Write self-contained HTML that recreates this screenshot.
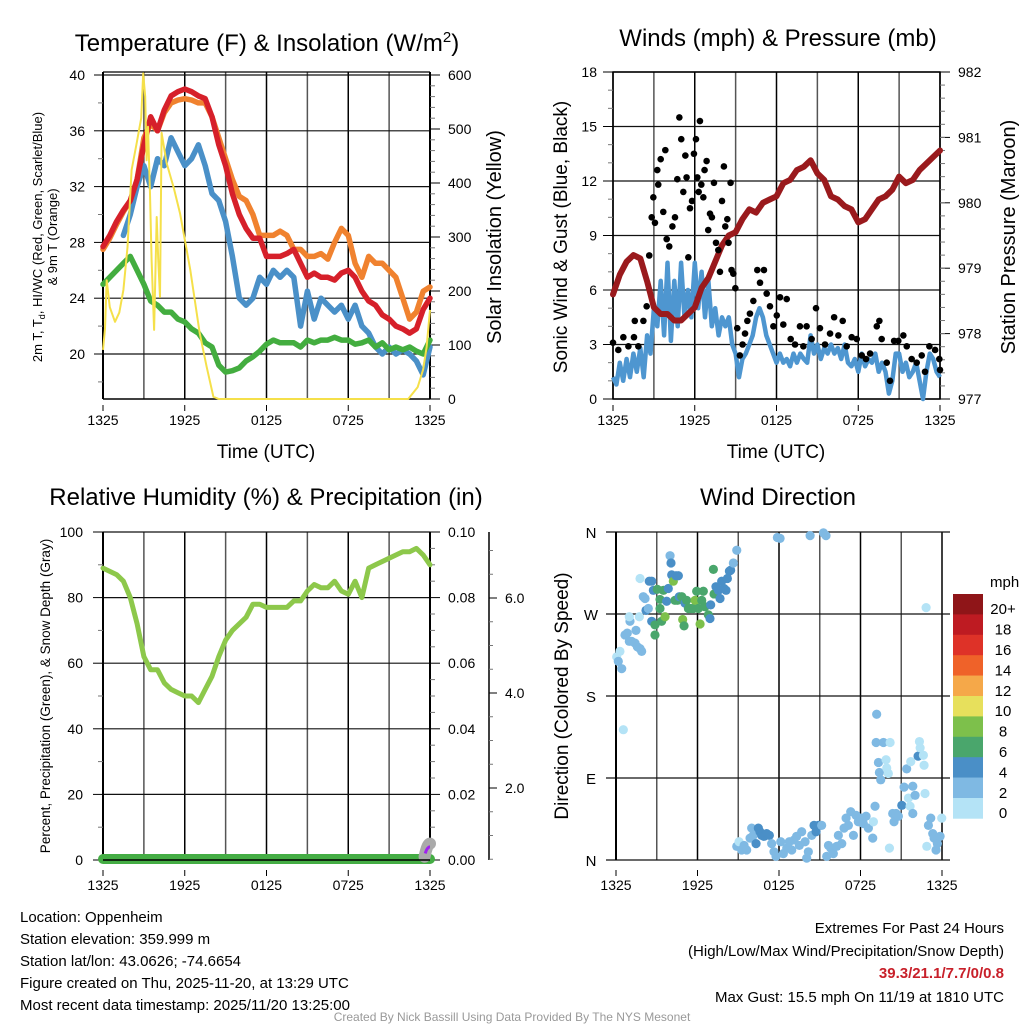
<!DOCTYPE html>
<html><head><meta charset="utf-8"><style>
html,body{margin:0;padding:0;background:#fff;}
svg{display:block;font-family:"Liberation Sans",sans-serif;}
</style></head><body>
<svg id="chart" width="1024" height="1024" viewBox="0 0 1024 1024" xmlns="http://www.w3.org/2000/svg">
<rect width="1024" height="1024" fill="#fff"/>
<g id="layer"></g>
<text x="267" y="51" font-size="24" text-anchor="middle">Temperature (F) &amp; Insolation (W/m<tspan dy="-9" font-size="15">2</tspan><tspan dy="9">)</tspan></text>
<text x="778" y="46" font-size="24" text-anchor="middle">Winds (mph) &amp; Pressure (mb)</text>
<text x="266" y="505" font-size="24" text-anchor="middle">Relative Humidity (%) &amp; Precipitation (in)</text>
<text x="778" y="505" font-size="24" text-anchor="middle">Wind Direction</text>
<text x="266" y="458" font-size="19" text-anchor="middle">Time (UTC)</text>
<text x="776" y="458" font-size="19" text-anchor="middle">Time (UTC)</text>
<text transform="translate(42,237) rotate(-90)" font-size="13" text-anchor="middle">2m T, T<tspan font-size="9" dy="3">d</tspan><tspan dy="-3">, HI/WC (Red, Green, Scarlet/Blue)</tspan></text>
<text transform="translate(57,237) rotate(-90)" font-size="13" text-anchor="middle">&amp; 9m T (Orange)</text>
<text transform="translate(501,237) rotate(-90)" font-size="20" text-anchor="middle">Solar Insolation (Yellow)</text>
<text transform="translate(567,237) rotate(-90)" font-size="19" text-anchor="middle">Sonic Wind &amp; Gust (Blue, Black)</text>
<text transform="translate(1015,237) rotate(-90)" font-size="20" text-anchor="middle">Station Pressure (Maroon)</text>
<text transform="translate(50,696) rotate(-90)" font-size="13.5" text-anchor="middle">Percent, Precipitation (Green), &amp; Snow Depth (Gray)</text>
<text transform="translate(568,696) rotate(-90)" font-size="19" text-anchor="middle">Direction (Colored By Speed)</text>
<g font-size="15">
<text x="20" y="922">Location: Oppenheim</text>
<text x="20" y="944">Station elevation: 359.999 m</text>
<text x="20" y="966">Station lat/lon: 43.0626; -74.6654</text>
<text x="20" y="988">Figure created on Thu, 2025-11-20, at 13:29 UTC</text>
<text x="20" y="1010">Most recent data timestamp: 2025/11/20 13:25:00</text>
</g>
<g font-size="15" text-anchor="end">
<text x="1004" y="933">Extremes For Past 24 Hours</text>
<text x="1004" y="956">(High/Low/Max Wind/Precipitation/Snow Depth)</text>
<text x="1004" y="978" fill="#c8202a" font-weight="bold">39.3/21.1/7.7/0/0.8</text>
<text x="1004" y="1002">Max Gust: 15.5 mph On 11/19 at 1810 UTC</text>
</g>
<text x="512" y="1021" font-size="12" fill="#999" text-anchor="middle">Created By Nick Bassill Using Data Provided By The NYS Mesonet</text>
</svg>
<script>
// ---- data ----
const hours = [0,0.5,1,1.5,2,2.5,3,3.5,4,4.5,5,5.5,6,6.5,7,7.5,8,8.5,9,9.5,10,10.5,11,11.5,12,12.5,13,13.5,14,14.5,15,15.5,16,16.5,17,17.5,18,18.5,19,19.5,20,20.5,21,21.5,22,22.5,23,23.5,24];
const timeTickLabels = ["1325","1925","0125","0725","1325"];
const tempRed = [27.7,28.5,29.5,30.3,31,32.5,35,37,36,37.5,38.5,38.8,39,38.8,38.5,38.3,37,35,33.5,31.5,30,29,28.3,28.3,27,27,27,27.2,27.5,26.5,25.5,25.8,25.5,25.5,25.3,25.8,26,25.5,24.5,23.8,23.5,22.8,22.5,22,21.8,21.5,21.8,23.2,24];
const temp9m = [27.5,28.3,29.3,30.2,31,32.5,35.5,36.5,36,37.3,38,38.2,38.3,38.2,38,38,37,35.5,34,32.5,31.3,31,30,28.5,28.5,28.5,28.8,28.5,27.5,27.5,27,27,27.2,26.8,28,29,28.5,26.5,25.5,27,26.5,26.5,26,25.5,24,22.5,23,24.5,24.8];
const tempBlue = [null,null,null,28.5,30,32,33.5,32,34,33.5,35.5,34.5,33.5,34,35,33.5,31.5,31,29.5,27,24,23.5,24,25.5,25,26,25.5,26,25.5,22,24.5,22.5,24,23.5,23,23.5,22.5,23.5,22,21.5,20.5,20,20.5,20,20.3,20,19.5,18.5,20.5];
const dewPoint = [25,25.5,26,26.5,27,26,25,23.8,23.5,23,23,22.5,22.3,21.8,21.5,20.8,20.5,19.2,18.7,18.8,19,19.5,19.8,20.2,20.7,21,20.8,20.8,20.8,20.5,21,20.8,21,21,21.2,21,21,20.7,20.8,21,20.5,20.8,20.3,20.5,20.3,20.5,20.2,20,21];
const tempTicks = [20,24,28,32,36,40];
const insolTicks = [0,100,200,300,400,500,600];
const insolHours = [0,0.15,0.27,0.5,0.88,1.2,1.5,1.8,2.1,2.47,2.8,2.95,3.1,3.2,3.3,3.45,3.57,3.75,3.94,4.05,4.18,4.3,4.67,5.2,5.65,6.4,7.1,7.6,8.1,8.5,22.4,23.1,23.5,23.75,24];
const insolValues = [91,130,220,170,143,160,202,281,424,474,520,603,560,442,504,380,257,128,337,260,189,493,437,390,344,240,122,60,4,0,0,22,55,96,165];

const windSpeed = [1.2,0.8,2,1,2.2,1.2,2.5,1.5,2.8,1.2,3.5,2.5,5,4,6.5,3.5,7.5,3.2,6.5,4,7.5,4.5,6,4.5,7.5,5,7,4.5,6.5,4,5,3.5,4.5,4,4.5,3,2.5,1.2,2.2,2.5,3,3.5,4.5,5,4.5,3.5,3,2.5,2,2.5,2,2.2,1.8,2.5,2,2.5,2.2,2,3.5,2.5,3,2.2,2.8,2.5,3,2.5,2.8,2.2,3,2,1.8,2.2,1.5,2.5,1.8,2.2,2,2.5,1.5,2,1.5,0.3,1,2.5,2.5,1.5,2,1.2,1.5,2,1,0,1.5,2.5,2.2,1.5,1.2];
const pressure = [978.6,978.9,979.1,979.2,979.15,978.8,978.4,978.3,978.3,978.2,978.2,978.3,978.4,978.7,978.85,979.1,979.35,979.5,979.55,979.75,979.9,979.85,980,980.05,980.1,980.3,980.35,980.5,980.55,980.65,980.45,980.35,980.1,980.05,979.95,979.9,979.7,979.75,979.9,980.05,980.1,980.2,980.4,980.3,980.35,980.5,980.6,980.7,980.8];
const gustHours = [0,0.39,0.76,1.13,1.54,1.86,1.6,2.23,2.47,2.66,2.84,2.96,3.08,3.25,3.32,3.5,3.69,3.84,3.94,4.13,4.36,4.55,4.72,4.87,5.01,5.16,5.31,5.4,5.53,5.65,5.8,5.94,6.09,6.19,6.29,6.38,6.48,6.63,6.72,6.87,6.99,7.12,7.26,7.41,7.56,7.73,7.85,8.0,8.14,8.24,8.39,8.48,8.63,8.7,8.83,8.98,9.12,9.31,9.51,9.69,9.86,10.05,10.3,10.59,10.79,11.08,11.28,11.52,11.77,12.02,12.26,12.5,12.75,13.04,13.36,13.72,13.97,14.21,14.58,14.9,15.19,15.56,15.93,16.23,16.54,16.86,17.15,17.52,17.89,18.26,18.57,18.87,19.36,19.55,19.72,20.09,20.33,20.63,20.94,21.31,21.56,21.92,22.29,22.66,22.9,23.22,23.64,23.95,24];
const gustValues = [3.1,2.7,3.4,2.9,3.4,2.9,4.3,4.3,5.1,7.9,10.0,11.1,9.7,12.6,11.8,13.2,10.3,13.7,8.8,8.4,9.5,10.0,12.1,15.5,14.3,11.4,13.4,12.2,7.8,10.5,10.9,13.5,14.3,12.2,11.4,15.3,11.8,11.1,12.6,13.1,9.3,10.2,10.0,11.9,8.6,8.2,7.0,10.9,12.8,9.5,9.9,8.6,11.9,7.1,6.9,6.1,3.9,2.4,3.0,3.6,4.3,4.7,5.4,7.1,6.4,7.1,5.8,5.1,4.0,4.6,5.6,4.1,5.5,3.3,3.0,4.0,2.9,4.0,3.3,5.0,3.9,3.0,3.6,4.5,3.5,4.3,2.9,3.4,3.3,2.4,2.2,2.5,4.0,4.3,3.3,2.0,1.0,3.2,3.2,3.5,2.9,2.2,2.0,2.4,1.5,2.9,2.7,2.2,1.6];
const windTicks = [0,3,6,9,12,15,18];
const pressureTicks = [977,978,979,980,981,982];

const rh = [89,88,87,85,80,72,62,58,58,54,52,51,50,50,48,52,56,62,67,70,72,74,78,78,77,77,77,77,79,79,82,84,83,83,85,82,81,85,80,89,90,91,92,93,94,94,95,93,90];
const rhTicks = [0,20,40,60,80,100];
const precipTickLabels = ["0.00","0.02","0.04","0.06","0.08","0.10"];
const snowTickLabels = ["2.0","4.0","6.0"];

const dirHours = [0.05,0.29,0.17,0.42,0.54,0.66,0.83,0.98,1.15,1.4,1.57,1.77,1.89,1.03,0.98,1.47,1.72,1.77,2.01,2.14,2.21,2.38,2.45,2.63,2.75,2.63,2.87,2.87,3.04,3.24,3.24,3.36,3.49,3.61,3.73,3.85,3.98,4.05,4.1,4.22,4.34,4.42,4.52,4.59,4.66,4.84,4.91,5.01,5.08,5.2,5.33,5.5,5.69,5.82,5.94,6.06,6.19,6.31,6.43,6.55,6.8,6.92,6.97,7.17,7.22,7.36,7.54,7.66,7.78,7.95,8.1,8.2,8.35,8.44,8.64,8.89,
8.89,9.06,9.25,9.43,9.62,9.87,9.99,10.11,10.31,10.48,10.6,10.73,10.9,11.09,11.29,11.46,11.63,11.78,11.88,12.08,12.13,12.32,12.57,12.76,12.94,13.11,13.3,13.5,13.67,13.92,14.04,14.16,14.29,14.41,14.58,14.73,14.9,15.14,15.27,15.46,15.51,15.64,15.81,16.0,16.25,16.37,16.62,16.79,16.94,17.11,17.28,17.48,17.67,17.84,18.02,18.21,18.41,18.58,18.9,18.95,19.07,19.19,19.15,19.32,19.39,19.49,19.69,19.88,19.93,20.05,20.18,20.13,20.37,20.47,20.62,20.79,21.04,21.21,21.4,21.53,21.65,21.7,21.85,21.85,22.02,22.24,22.34,22.39,22.63,22.68,22.75,22.83,22.88,23.0,23.17,23.32,23.42,23.56,23.66,23.86,23.98];
const dirDegrees = [223,229,218,210,143,247,249,240,240,238,234,232,229,262,267,252,267,309,289,287,274,276,306,306,296,262,258,247,297,286,276,262,296,267,284,298,334,326,313,306,285,312,285,312,289,289,264,257,282,285,276,276,276,285,295,276,259,285,295,278,269,265,280,319,292,300,296,287,306,298,296,309,317,318,326,340,
15,20,11,16,11,24,35,27,18,35,31,27,26,29,27,18,9,4,354,353,20,7,13,20,11,22,26,16,31,20,2,9,356,27,38,31,38,38,359,356,4,16,13,7,15,27,18,35,46,38,53,27,49,42,46,40,48,35,24,42,59,160,129,107,96,88,129,110,101,95,129,13,51,42,51,48,60,80,100,68,59,108,51,81,71,114,130,123,115,104,73,277,15,38,46,29,24,11,18,26,46];
const dirSpeeds = [1,1,3,3,1,3,3,3,3,3,3,3,3,3,1,3,1,1,3,3,5,3,5,5,5,5,7,7,7,7,7,7,7,9,5,5,3,5,5,9,7,5,7,5,5,7,9,7,5,7,7,7,7,9,7,7,9,7,7,7,7,5,5,7,7,5,5,5,5,5,5,5,5,5,3,3,
3,1,3,3,3,3,3,3,5,5,5,5,5,5,5,3,3,3,3,3,3,3,3,3,3,3,3,3,3,3,3,3,3,3,5,5,5,3,3,3,3,3,3,3,3,3,3,3,3,3,3,3,3,3,3,3,3,3,3,1,3,3,3,3,3,3,3,1,1,1,1,1,3,3,3,3,5,3,3,1,1,1,3,3,3,5,1,1,1,1,1,1,1,3,3,3,3,3,3,3,1];
const dirTickLabels = ["N","E","S","W","N"];
const dirTickDegrees = [0,90,180,270,360];
const speedBinLabels = ["20+","18","16","14","12","10","8","6","4","2","0"];
const speedBinColors = ["#8f1518","#be1b22","#de3228","#ef6229","#f5a849","#e7e05c","#7dc04b","#4aa66c","#4a8fc7","#7fb9e3","#b4e3f6"];

// ---- helpers ----
const NS = "http://www.w3.org/2000/svg";
const layer = document.getElementById('layer');
function mk(tag, attrs, parent){ const e=document.createElementNS(NS,tag); for(const k in attrs) e.setAttribute(k,attrs[k]); (parent||layer).appendChild(e); return e; }
function xAxis(x0,x1){ return h => x0 + h*(x1-x0)/24; }
function linY(vMin,vMax,yBottom,yTop){ return v => yBottom - (v-vMin)*(yBottom-yTop)/(vMax-vMin); }
function pathFrom(xs, ys, fx, fy){
  let d="", pen=false;
  for(let i=0;i<xs.length;i++){
    if(ys[i]===null||ys[i]===undefined){pen=false;continue;}
    d += (pen?"L":"M") + fx(xs[i]).toFixed(1)+","+fy(ys[i]).toFixed(1)+" ";
    pen=true;
  }
  return d;
}
function grid(g, x0,x1,yTop,yBottom, fx, hLines){
  for(let h=0;h<=24;h+=3){ const gl=mk('line',{x1:fx(h),x2:fx(h),y1:yTop,y2:yBottom,stroke:(h%6===0?'#000':'#555'),'stroke-width':1.5},g);
      }
  hLines.forEach(y=>{ const gl=mk('line',{x1:x0,x2:x1,y1:y,y2:y,stroke:'#111','stroke-width':1.2},g);
      });
}
function timeLabels(g, fx, y){
  timeTickLabels.forEach((t,i)=>{ const tx=mk('text',{x:fx(i*6),y:y,'font-size':14,'text-anchor':'middle'},g); tx.textContent=t;
     
    const tk=mk('line',{x1:fx(i*6),x2:fx(i*6),y1:y-20,y2:y-14,stroke:'#000'},g);
      });
}
function label(g,x,y,txt,anchor,size,name){ const t=mk('text',{x:x,y:y,'font-size':size||14,'text-anchor':anchor||'end'},g); t.textContent=txt;
    return t; }

// ---- panel 1: temperature ----
(function(){
  const g=mk('g',{});  
  const fx=xAxis(103,430), fi=linY(0,600,399,75);
  const fyT = v => 75 + (40-v)*13.95;
  grid(g,103,430,72,399,fx,tempTicks.map(fyT));
  mk('line',{x1:103,x2:430,y1:72,y2:72,stroke:'#000','stroke-width':1.2},g);
  mk('line',{x1:103,x2:430,y1:399,y2:399,stroke:'#000','stroke-width':1.5},g);
  mk('line',{x1:103,x2:103,y1:72,y2:399,stroke:'#000','stroke-width':2},g);
  mk('line',{x1:430,x2:430,y1:72,y2:399,stroke:'#000','stroke-width':2},g);
  tempTicks.forEach(t=>{ label(g,85,fyT(t)+5,String(t),'end',14,'temp-tick-label'); mk('line',{x1:94,x2:103,y1:fyT(t),y2:fyT(t),stroke:'#000'},g); });
  for(let t=18;t<40;t+=2){ if(t%4) mk('line',{x1:98,x2:103,y1:fyT(t),y2:fyT(t),stroke:'#777'},g); }
  insolTicks.forEach(v=>{ label(g,448,fi(v)+5,String(v),'start',14,'insolation-tick-label'); mk('line',{x1:430,x2:440,y1:fi(v),y2:fi(v),stroke:'#000'},g); });
  for(let v=20;v<600;v+=20){ if(v%100) mk('line',{x1:430,x2:435,y1:fi(v),y2:fi(v),stroke:'#777'},g); }
  timeLabels(g,fx,425);
  const series=[[temp9m,'#f0822f','nine-meter-temp-line'],[tempBlue,'#4a90c8','wind-chill-line'],[dewPoint,'#43ad3f','dew-point-line'],[tempRed,'#d6202a','temperature-line']];
  series.forEach(s=>{ const p=mk('path',{d:pathFrom(hours,s[0],fx,fyT),fill:'none',stroke:s[1],'stroke-width':5.5,'stroke-linejoin':'round','stroke-linecap':'round'},g);
      });
  const ins=mk('path',{d:pathFrom(insolHours,insolValues,fx,fi),fill:'none',stroke:'#f5e04a','stroke-width':2,'stroke-linejoin':'round'},g);
   
})();

// ---- panel 2: winds ----
(function(){
  const g=mk('g',{});  
  const fx=xAxis(613,940), fw=linY(0,18,399,72), fp=linY(977,982,399,72);
  const windHours = windSpeed.map((v,i)=>i*24/(windSpeed.length-1));
  grid(g,613,940,72,399,fx,windTicks.map(fw));
  mk('rect',{x:613,y:72,width:327,height:327,fill:'none',stroke:'#000','stroke-width':1.5},g);
  windTicks.forEach(t=>{ label(g,597,fw(t)+5,String(t),'end',14,'wind-tick-label'); mk('line',{x1:603,x2:613,y1:fw(t),y2:fw(t),stroke:'#000'},g); });
  for(let t=1;t<18;t++){ if(t%3) mk('line',{x1:608,x2:613,y1:fw(t),y2:fw(t),stroke:'#777'},g); }
  pressureTicks.forEach(v=>{ label(g,958,fp(v)+5,String(v),'start',14,'pressure-tick-label'); mk('line',{x1:940,x2:950,y1:fp(v),y2:fp(v),stroke:'#000'},g); });
  for(let v=977.2;v<982;v+=0.2){ mk('line',{x1:940,x2:945,y1:fp(v),y2:fp(v),stroke:'#777'},g); }
  timeLabels(g,fx,425);
  const w=mk('path',{d:pathFrom(windHours,windSpeed,fx,fw),fill:'none',stroke:'#4e96d0','stroke-width':4.5,'stroke-linejoin':'round'},g);
   
  const p=mk('path',{d:pathFrom(hours,pressure,fx,fp),fill:'none',stroke:'#9a1a1d','stroke-width':6,'stroke-linejoin':'round','stroke-linecap':'round'},g);
   
  gustHours.forEach((h,i)=>{ const c=mk('circle',{cx:fx(h),cy:fw(gustValues[i]),r:3.3,fill:'#000'},g);
      });
})();

// ---- panel 3: humidity ----
(function(){
  const g=mk('g',{});  
  const fx=xAxis(103,430), fr=linY(0,100,860,532);
  grid(g,103,430,532,860,fx,rhTicks.map(fr));
  mk('line',{x1:103,x2:103,y1:532,y2:860,stroke:'#000','stroke-width':2},g);
  mk('line',{x1:430,x2:430,y1:532,y2:860,stroke:'#000','stroke-width':2},g);
  rhTicks.forEach((t,i)=>{ label(g,83,fr(t)+5,String(t),'end',14,'humidity-tick-label'); mk('line',{x1:93,x2:103,y1:fr(t),y2:fr(t),stroke:'#000'},g);
    label(g,448,fr(t)+5,precipTickLabels[i],'start',14,'precip-tick-label'); mk('line',{x1:430,x2:440,y1:fr(t),y2:fr(t),stroke:'#000'},g); });
  for(let t=10;t<100;t+=20){ mk('line',{x1:98,x2:103,y1:fr(t),y2:fr(t),stroke:'#777'},g); }
  for(let t=5;t<100;t+=5){ if(t%20) mk('line',{x1:430,x2:435,y1:fr(t),y2:fr(t),stroke:'#777'},g); }
  const sx=mk('line',{x1:489,x2:489,y1:532,y2:860,stroke:'#000','stroke-width':1.5},g);
   
  const fs = v => 883 - v*47.5;
  snowTickLabels.forEach((t,i)=>{ const v=(i+1)*2; label(g,505,fs(v)+5,t,'start',14,'snow-tick-label'); mk('line',{x1:489,x2:497,y1:fs(v),y2:fs(v),stroke:'#000'},g); });
  for(let v=0.5;v<7.2;v+=0.5){ if(v%2) mk('line',{x1:489,x2:493,y1:fs(v),y2:fs(v),stroke:'#777'},g); }
  timeLabels(g,fx,890);
  const pr=mk('line',{x1:fx(0),x2:fx(24),y1:fr(0)-1,y2:fr(0)-1,stroke:'#44ad44','stroke-width':10,'stroke-linecap':'round'},g);
   
  const sn=mk('path',{d:`M${fx(23.6)},${fr(1)} Q${fx(23.8)},${fr(5)} ${fx(24)},${fr(5)}`,fill:'none',stroke:'#aaa','stroke-width':12,'stroke-linecap':'round'},g);
   
  const pu=mk('path',{d:`M${fx(23.65)},${fr(2)} Q${fx(23.8)},${fr(4)} ${fx(24)},${fr(4)}`,fill:'none',stroke:'#a020f0','stroke-width':3},g);
   
  const r=mk('path',{d:pathFrom(hours,rh,fx,fr),fill:'none',stroke:'#8dc84b','stroke-width':5,'stroke-linejoin':'round','stroke-linecap':'round'},g);
   
  mk('line',{x1:103,x2:430,y1:860,y2:860,stroke:'#000','stroke-width':1.5},g);
})();

// ---- panel 4: wind direction ----
(function(){
  const g=mk('g',{});  
  const fx=xAxis(616,942), fd=linY(0,360,860,532);
  grid(g,606,950,532,860,fx,dirTickDegrees.map(fd));
  mk('line',{x1:616,x2:616,y1:532,y2:860,stroke:'#000','stroke-width':2},g);
  dirTickDegrees.forEach((d,i)=>{ label(g,591,fd(d)+6,dirTickLabels[i],'middle',15,'direction-tick-label'); });
  timeLabels(g,fx,890);
  function colorFor(s){ const idx=Math.min(10,Math.floor(s/2)); return speedBinColors[10-idx]; }
  dirHours.forEach((h,i)=>{ const c=mk('circle',{cx:fx(h),cy:fd(dirDegrees[i]),r:4.6,fill:colorFor(dirSpeeds[i])},g);
      });
  const lg=mk('g',{},g);  
  label(lg,990,587,'mph','start',15,'legend-title');
  const top=594, bh=20.4;
  speedBinLabels.forEach((t,i)=>{ const rc=mk('rect',{x:953,y:top+i*bh,width:30,height:bh+0.3,fill:speedBinColors[i]},lg);
     
    label(lg,1003,top+i*bh+bh/2+10,t,'middle',15,'legend-label'); });
})();
</script>
</body></html>
